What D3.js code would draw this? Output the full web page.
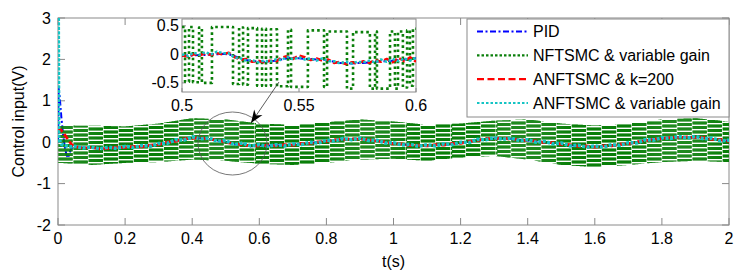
<!DOCTYPE html>
<html>
<head>
<meta charset="utf-8">
<script src="https://cdn.jsdelivr.net/npm/d3@7"></script>
<style>
  body { margin: 0; background: #fff; }
  svg { display: block; font-family: "Liberation Sans", Arial, sans-serif; }
</style>
</head>
<body>
<div id="chart"></div>
<script>
// ---- data ----
const seriesNames = ["PID", "NFTSMC & variable gain", "ANFTSMC & k=200", "ANFTSMC & variable gain"];
const xTicks = [0, 0.2, 0.4, 0.6, 0.8, 1, 1.2, 1.4, 1.6, 1.8, 2];
const yTicks = [-2, -1, 0, 1, 2, 3];
const zoomXTicks = [0.5, 0.55, 0.6];
const zoomYTicks = [-0.5, 0, 0.5];

// start-up transients (t < 0.05 s)
const tPidHead = [0, 0.002, 0.005, 0.01, 0.015, 0.02, 0.025, 0.03, 0.035, 0.04, 0.045];
const pidHead = [0, 1.3, 1.1, 0.6, 0.2, -0.1, -0.3, -0.38, -0.25, -0.15, -0.12];
const tRedHead = [0, 0.005, 0.01, 0.02, 0.03, 0.04];
const redHead = [0.35, 0.32, 0.28, 0.18, 0.06, -0.05];
const tCyanHead = [0, 0.0005, 0.002, 0.005, 0.01, 0.02, 0.03, 0.04];
const cyanHead = [0, 4, 0.15, 0.05, -0.05, -0.08, -0.1, -0.11];

// steady part, one value every 0.025 s from 0.05 to 2.0
const tSteady = d3.range(2, 81).map(i => +(i * 0.025).toFixed(3));
const pidSteady = [
  -0.12,-0.13,-0.14,-0.15,-0.14,-0.13,-0.12,-0.11,
  -0.10,-0.08,-0.05,-0.01,0.03,0.07,0.10,0.10,
  0.08,0.04,0.01,-0.05,-0.05,-0.10,-0.08,-0.08,
  -0.08,-0.07,-0.06,-0.04,-0.02,0.00,0.03,0.05,
  0.07,0.08,0.08,0.06,0.03,0.00,-0.03,-0.05,
  -0.07,-0.08,-0.08,-0.07,-0.06,-0.04,-0.02,0.01,
  0.05,0.08,0.09,0.09,0.08,0.06,0.04,0.02,
  0.00,-0.02,-0.04,-0.07,-0.09,-0.10,-0.11,-0.10,
  -0.08,-0.06,-0.03,0.00,0.04,0.07,0.09,0.11,
  0.12,0.12,0.12,0.10,0.08,0.05,0.03];
const redSteady = [
  -0.11,-0.14,-0.13,-0.16,-0.15,-0.12,-0.13,-0.10,
  -0.11,-0.07,-0.06,0.00,0.02,0.08,0.09,0.11,
  0.07,0.05,0.00,-0.04,-0.06,-0.09,-0.09,-0.07,
  -0.09,-0.06,-0.07,-0.03,-0.03,0.01,0.02,0.06,
  0.06,0.09,0.07,0.07,0.02,0.01,-0.04,-0.04,
  -0.08,-0.07,-0.09,-0.06,-0.07,-0.03,-0.03,0.02,
  0.04,0.09,0.08,0.10,0.07,0.07,0.03,0.03,
  -0.01,-0.01,-0.05,-0.06,-0.10,-0.09,-0.12,-0.09,
  -0.09,-0.05,-0.04,0.01,0.03,0.08,0.08,0.12,
  0.11,0.13,0.11,0.11,0.07,0.06,0.02];
const cyanSteady = [
  -0.10,-0.14,-0.12,-0.16,-0.12,-0.15,-0.10,-0.13,
  -0.08,-0.10,-0.03,-0.03,0.06,0.05,0.13,0.08,
  0.10,0.02,0.04,-0.06,-0.02,-0.09,-0.06,-0.10,
  -0.06,-0.09,-0.04,-0.06,0.00,-0.02,0.05,0.03,
  0.09,0.06,0.10,0.04,0.05,-0.02,-0.01,-0.07,
  -0.05,-0.10,-0.06,-0.09,-0.04,-0.06,0.00,-0.01,
  0.07,0.06,0.11,0.07,0.10,0.04,0.06,0.00,
  0.02,-0.04,-0.02,-0.09,-0.07,-0.12,-0.09,-0.12,
  -0.06,-0.08,-0.01,-0.02,0.06,0.05,0.11,0.09,
  0.14,0.10,0.14,0.08,0.10,0.03,0.05];

// NFTSMC chatter band: upper / lower edge of the switching signal
const tBand = [0.003, 0.05, 0.1, 0.2, 0.3, 0.4, 0.5, 0.6, 0.7, 0.8, 0.9, 1.0, 1.1, 1.2, 1.3, 1.4, 1.5, 1.6, 1.7, 1.8, 1.9, 2.0];
const bandUpper = [0.42, 0.40, 0.40, 0.38, 0.45, 0.58, 0.55, 0.45, 0.42, 0.48, 0.55, 0.50, 0.42, 0.45, 0.52, 0.55, 0.45, 0.40, 0.45, 0.55, 0.58, 0.50];
const bandLower = [-0.50, -0.52, -0.55, -0.50, -0.48, -0.42, -0.45, -0.52, -0.55, -0.50, -0.42, -0.40, -0.45, -0.37, -0.33, -0.42, -0.55, -0.60, -0.55, -0.48, -0.45, -0.48];
const chatterStep = 0.003;

// zoomed window 0.5 - 0.6 s, one value every 0.0025 s
const tZoom = d3.range(0, 41).map(i => +(0.5 + i * 0.0025).toFixed(4));
const pidZoom = [
  -0.03,-0.02,-0.02,-0.01,-0.01,0.00,0.00,0.01,
  0.00,-0.03,-0.07,-0.10,-0.12,-0.12,-0.13,-0.12,
  -0.11,-0.09,-0.07,-0.06,-0.07,-0.08,-0.08,-0.09,
  -0.09,-0.11,-0.13,-0.15,-0.15,-0.16,-0.15,-0.15,
  -0.14,-0.13,-0.12,-0.12,-0.11,-0.10,-0.09,-0.08,-0.07];
const redZoom = [
  -0.02,-0.04,0.00,-0.02,0.02,-0.01,0.02,0.00,
  0.03,-0.05,-0.09,-0.08,-0.13,-0.11,-0.14,-0.11,
  -0.13,-0.06,-0.03,-0.08,-0.02,-0.05,-0.10,-0.07,
  -0.11,-0.09,-0.15,-0.13,-0.17,-0.14,-0.16,-0.12,
  -0.15,-0.10,-0.13,-0.08,-0.14,-0.06,-0.12,-0.05,-0.13];
const cyanZoom = [
  0.00,-0.03,0.03,-0.01,0.04,0.00,0.05,0.02,
  0.02,-0.06,-0.07,-0.11,-0.10,-0.14,-0.11,-0.13,
  -0.09,-0.10,-0.04,-0.09,-0.05,-0.09,-0.07,-0.11,
  -0.07,-0.12,-0.12,-0.16,-0.13,-0.16,-0.13,-0.14,
  -0.11,-0.14,-0.09,-0.13,-0.08,-0.12,-0.07,-0.11,-0.06];
// NFTSMC in the zoom: switching instants and the level held after each
const greenSwitchT = [0.5, 0.5013, 0.5030, 0.5047, 0.5073, 0.5085, 0.5128, 0.5218, 0.5244, 0.5261,
  0.5282, 0.5321, 0.5342, 0.5359, 0.5380, 0.5406, 0.5453, 0.5466, 0.5538, 0.5607,
  0.5620, 0.5705, 0.5731, 0.5803, 0.5825, 0.5833, 0.5889, 0.5910, 0.5923, 0.5944,
  0.5962, 0.5974, 0.5987];
const greenLevel = [0.48, -0.48, 0.48, -0.49, 0.47, -0.50, 0.48, -0.52, 0.47, -0.53,
  0.46, -0.55, 0.45, -0.55, 0.44, -0.56, 0.43, -0.57, 0.42, -0.57,
  0.40, -0.60, 0.39, -0.60, 0.40, -0.60, 0.40, -0.60, 0.40, -0.58,
  0.42, -0.55, 0.45];

// ---- drawing ----
const W = 744, H = 278;
const axisGrey = "#8a8a8a";
const colours = { pid: "#0000ff", nft: "#0a7f0a", red: "#ff0000", cyan: "#14c4c4" };
const styles = {
  pid: { color: colours.pid, dash: "6,2.5,2,2.5", width: 2 },
  nft: { color: colours.nft, dash: "2.5,2", width: 2.2 },
  red: { color: colours.red, dash: "6,3", width: 2.8 },
  cyan: { color: colours.cyan, dash: "3,1.5", width: 3.5 }
};

const svg = d3.select("#chart").append("svg").attr("width", W).attr("height", H);

const main = { left: 58, right: 729, top: 18, bottom: 225 };
const x = d3.scaleLinear().domain([0, 2]).range([main.left, main.right]);
const y = d3.scaleLinear().domain([-2, 3]).range([main.bottom, main.top]);

const zoomBox = { left: 182, right: 416, top: 19, bottom: 92 };
const zx = d3.scaleLinear().domain([0.5, 0.6]).range([zoomBox.left, zoomBox.right]);
const zy = d3.scaleLinear().domain([-0.66, 0.62]).range([zoomBox.bottom, zoomBox.top]);

const defs = svg.append("defs");
defs.append("clipPath").attr("id", "clipMain").append("rect")
  .attr("x", main.left).attr("y", main.top)
  .attr("width", main.right - main.left).attr("height", main.bottom - main.top);
defs.append("clipPath").attr("id", "clipZoom").append("rect")
  .attr("x", zoomBox.left).attr("y", zoomBox.top)
  .attr("width", zoomBox.right - zoomBox.left).attr("height", zoomBox.bottom - zoomBox.top);

function zipPts(ts, vs) { return ts.map((t, i) => [t, vs[i]]); }

function drawLine(g, pts, st, sx, sy, curve) {
  g.append("path")
    .datum(pts)
    .attr("fill", "none")
    .attr("stroke", st.color)
    .attr("stroke-width", st.width)
    .attr("stroke-dasharray", st.dash)
    .attr("stroke-linejoin", "round")
    .attr("d", d3.line().curve(curve || d3.curveLinear).x(d => sx(d[0])).y(d => sy(d[1])));
}

// axes box, inward ticks, tick labels
function drawFrame(g, box, sx, sy, xt, yt, tick, mirror, labelGap) {
  g.append("rect")
    .attr("x", box.left).attr("y", box.top)
    .attr("width", box.right - box.left).attr("height", box.bottom - box.top)
    .attr("fill", "#fff").attr("stroke", axisGrey).attr("stroke-width", 1);
  xt.forEach(v => {
    g.append("line").attr("x1", sx(v)).attr("x2", sx(v))
      .attr("y1", box.bottom).attr("y2", box.bottom - tick)
      .attr("stroke", axisGrey);
    if (mirror) g.append("line").attr("x1", sx(v)).attr("x2", sx(v))
      .attr("y1", box.top).attr("y2", box.top + tick)
      .attr("stroke", axisGrey);
  });
  yt.forEach(v => {
    g.append("line").attr("x1", box.left).attr("x2", box.left + tick)
      .attr("y1", sy(v)).attr("y2", sy(v)).attr("stroke", axisGrey);
    if (mirror) g.append("line").attr("x1", box.right).attr("x2", box.right - tick)
      .attr("y1", sy(v)).attr("y2", sy(v)).attr("stroke", axisGrey);
  });
  g.selectAll(null).data(xt).enter().append("text")
    .attr("x", d => sx(d)).attr("y", box.bottom + 19)
    .attr("text-anchor", "middle").attr("font-size", 16).attr("fill", "#000")
    .text(d => d);
  g.selectAll(null).data(yt).enter().append("text")
    .attr("x", box.left - labelGap).attr("y", d => sy(d) + 5.5)
    .attr("text-anchor", "end").attr("font-size", 16).attr("fill", "#000")
    .text(d => d);
}

drawFrame(svg.append("g"), main, x, y, xTicks, yTicks, 7, true, 7);

svg.append("text")
  .attr("transform", `translate(24,${(main.top + main.bottom) / 2}) rotate(-90)`)
  .attr("text-anchor", "middle").attr("font-size", 16).text("Control input(V)");
svg.append("text")
  .attr("x", (main.left + main.right) / 2).attr("y", 267)
  .attr("text-anchor", "middle").attr("font-size", 16).text("t(s)");

// main series, in plotting order
const gMain = svg.append("g").attr("clip-path", "url(#clipMain)");
drawLine(gMain, zipPts(tPidHead, pidHead).concat(zipPts(tSteady, pidSteady)), styles.pid, x, y);

// NFTSMC: each switch is a dotted vertical stroke between the band edges
const upperAt = d3.scaleLinear().domain(tBand).range(bandUpper);
const lowerAt = d3.scaleLinear().domain(tBand).range(bandLower);
const chatterT = d3.range(tBand[0], 2.0001, chatterStep);
const dotPeriod = 4.5;
gMain.append("g").selectAll("line")
  .data(chatterT.filter((t, i) => i % 15 !== 14))
  .join("line")
  .attr("x1", d => x(d)).attr("x2", d => x(d))
  .attr("y1", d => y(upperAt(d))).attr("y2", d => y(lowerAt(d)))
  .attr("stroke", colours.nft).attr("stroke-width", 1.4)
  .attr("stroke-dasharray", "3,1.5")
  .attr("stroke-dashoffset", d => {
    const block = Math.floor((d - tBand[0]) / chatterStep / 15);
    return (y(upperAt(d)) + (block % 3) * 1.5) % dotPeriod;
  });

drawLine(gMain, zipPts(tRedHead, redHead).concat(zipPts(tSteady, redSteady)), styles.red, x, y);
drawLine(gMain, zipPts(tCyanHead, cyanHead).concat(zipPts(tSteady, cyanSteady)), styles.cyan, x, y);

// circle marking the zoomed region
svg.append("ellipse")
  .attr("cx", 232.5).attr("cy", 143.5).attr("rx", 34.5).attr("ry", 31.5)
  .attr("fill", "none").attr("stroke", "#555").attr("stroke-width", 0.8);

// inset
drawFrame(svg.append("g"), zoomBox, zx, zy, zoomXTicks, zoomYTicks, 4, false, 3);

const gZoom = svg.append("g").attr("clip-path", "url(#clipZoom)");
drawLine(gZoom, zipPts(tZoom, pidZoom), styles.pid, zx, zy);
const stepPts = greenSwitchT.map((t, i) => [t, greenLevel[i]]).concat([[0.6, greenLevel[greenLevel.length - 1]]]);
drawLine(gZoom, stepPts, { color: colours.nft, dash: "2.6,3", width: 2.6 }, zx, zy, d3.curveStepAfter);
drawLine(gZoom, zipPts(tZoom, redZoom), { color: colours.red, dash: "6,3", width: 2.5 }, zx, zy);
drawLine(gZoom, zipPts(tZoom, cyanZoom), { color: colours.cyan, dash: "2.5,2", width: 2.5 }, zx, zy);

// arrow from the inset to the circle
const arrowFrom = [279, 82], arrowTip = [251, 123];
svg.append("line")
  .attr("x1", arrowFrom[0]).attr("y1", arrowFrom[1])
  .attr("x2", arrowTip[0]).attr("y2", arrowTip[1])
  .attr("stroke", "#333").attr("stroke-width", 0.8);
{
  const ang = Math.atan2(arrowTip[1] - arrowFrom[1], arrowTip[0] - arrowFrom[0]) * 180 / Math.PI;
  svg.append("path")
    .attr("d", "M0,0 L-13,-5 L-9,0 L-13,5 Z")
    .attr("transform", `translate(${arrowTip[0]},${arrowTip[1]}) rotate(${ang})`)
    .attr("fill", "#000");
}

// legend
const legendBox = { left: 467, right: 729, top: 19, bottom: 117 };
const legendKeys = ["pid", "nft", "red", "cyan"];
const legendStyle = {
  pid: styles.pid,
  nft: styles.nft,
  red: { color: colours.red, dash: "7,3.5", width: 2.2 },
  cyan: { color: colours.cyan, dash: "2.5,2", width: 2.2 }
};
const gLegend = svg.append("g");
gLegend.append("rect")
  .attr("x", legendBox.left).attr("y", legendBox.top)
  .attr("width", legendBox.right - legendBox.left).attr("height", legendBox.bottom - legendBox.top)
  .attr("fill", "#fff").attr("stroke", axisGrey);
const rowY = d3.scalePoint().domain(d3.range(4)).range([31.5, 103]);
legendKeys.forEach((k, i) => {
  const st = legendStyle[k];
  gLegend.append("line")
    .attr("x1", 477).attr("x2", 528).attr("y1", rowY(i)).attr("y2", rowY(i))
    .attr("stroke", st.color).attr("stroke-width", st.width)
    .attr("stroke-dasharray", st.dash);
  gLegend.append("text")
    .attr("x", 533).attr("y", rowY(i) + 5.5)
    .attr("font-size", 16).text(seriesNames[i]);
});
</script>
</body>
</html>
